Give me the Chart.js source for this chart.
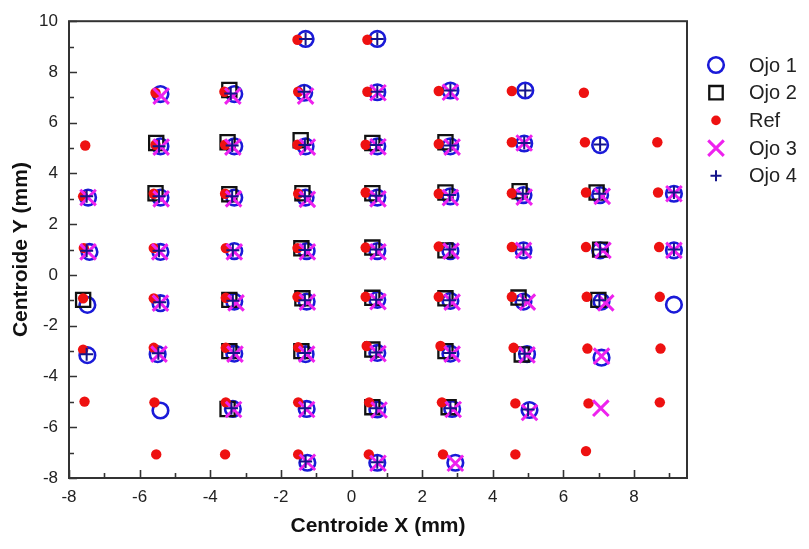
<!DOCTYPE html>
<html>
<head>
<meta charset="utf-8">
<script src="https://cdn.jsdelivr.net/npm/chart.js@4/dist/chart.umd.min.js"></script>
<style>
  html, body { margin: 0; padding: 0; background: #ffffff; }
  #wrap { width: 809px; height: 549px; }
</style>
</head>
<body>
<div id="wrap"><canvas id="c" width="809" height="549"></canvas></div>
<script>
// Centroid positions (mm) measured for each eye and the reference grid
const ojo1 = [
  [-1.30, 9.30], [0.73, 9.30],
  [-5.41, 7.13], [-3.32, 7.13], [-1.34, 7.18], [0.73, 7.20], [2.80, 7.27], [4.92, 7.27],
  [-5.41, 5.07], [-3.32, 5.07], [-1.30, 5.07], [0.73, 5.07], [2.80, 5.07], [4.89, 5.18], [7.04, 5.12],
  [-7.46, 3.05], [-5.41, 3.05], [-3.32, 3.05], [-1.30, 3.05], [0.73, 3.05], [2.80, 3.10], [4.87, 3.15], [7.04, 3.15], [9.13, 3.20],
  [-7.42, 0.91], [-5.41, 0.91], [-3.32, 0.94], [-1.27, 0.94], [0.73, 0.94], [2.80, 0.94], [4.87, 0.97], [7.04, 0.97], [9.13, 0.97],
  [-7.48, -1.18], [-5.41, -1.11], [-3.32, -1.05], [-1.27, -1.05], [0.73, -0.98], [2.80, -1.02], [4.87, -1.05], [7.08, -1.05], [9.13, -1.17],
  [-7.48, -3.16], [-5.49, -3.12], [-3.32, -3.10], [-1.30, -3.12], [0.73, -3.07], [2.80, -3.10], [4.97, -3.12], [7.08, -3.26],
  [-5.41, -5.34], [-3.36, -5.28], [-1.27, -5.28], [0.73, -5.30], [2.85, -5.28], [5.04, -5.32],
  [-1.25, -7.40], [0.73, -7.40], [2.94, -7.40]
];
const ojo2 = [
  [-3.46, 7.29],
  [-5.53, 5.20], [-3.51, 5.23], [-1.44, 5.31], [0.59, 5.20], [2.66, 5.23],
  [-5.55, 3.22], [-3.46, 3.18], [-1.39, 3.22], [0.59, 3.22], [2.66, 3.25], [4.76, 3.30], [6.94, 3.25],
  [-1.42, 1.05], [0.59, 1.08], [2.66, 0.97], [7.04, 1.00],
  [-7.60, -0.98], [-3.46, -0.98], [-1.39, -0.92], [0.59, -0.90], [2.66, -0.92], [4.73, -0.89], [6.99, -0.98],
  [-3.46, -3.00], [-1.42, -3.00], [0.59, -2.94], [2.66, -3.00], [4.82, -3.13],
  [-3.51, -5.28], [0.59, -5.21], [2.75, -5.21]
];
const ref = [
  [-1.53, 9.27], [0.45, 9.27],
  [-5.55, 7.18], [-3.60, 7.22], [-1.51, 7.22], [0.45, 7.22], [2.47, 7.25], [4.54, 7.25], [6.58, 7.18],
  [-7.54, 5.10], [-5.55, 5.13], [-3.58, 5.13], [-1.53, 5.13], [0.40, 5.13], [2.47, 5.16], [4.54, 5.23], [6.61, 5.23], [8.66, 5.23],
  [-7.60, 3.10], [-5.60, 3.20], [-3.58, 3.20], [-1.51, 3.20], [0.40, 3.25], [2.47, 3.20], [4.54, 3.22], [6.64, 3.25], [8.68, 3.25],
  [-7.58, 1.06], [-5.60, 1.06], [-3.56, 1.06], [-1.53, 1.06], [0.40, 1.08], [2.47, 1.12], [4.54, 1.10], [6.64, 1.10], [8.71, 1.10],
  [-7.60, -0.92], [-5.60, -0.92], [-3.56, -0.90], [-1.53, -0.86], [0.40, -0.86], [2.47, -0.86], [4.54, -0.86], [6.66, -0.86], [8.73, -0.86],
  [-7.60, -2.94], [-5.60, -2.87], [-3.56, -2.87], [-1.51, -2.85], [0.43, -2.80], [2.52, -2.80], [4.59, -2.87], [6.68, -2.90], [8.75, -2.90],
  [-7.56, -4.99], [-5.58, -5.02], [-3.56, -5.02], [-1.51, -5.02], [0.50, -5.02], [2.56, -5.02], [4.64, -5.06], [6.71, -5.06], [8.73, -5.02],
  [-5.53, -7.07], [-3.58, -7.07], [-1.51, -7.07], [0.49, -7.07], [2.59, -7.07], [4.64, -7.07], [6.64, -6.94]
];
const ojo3 = [
  [-5.39, 7.05], [-3.36, 7.05], [-1.30, 7.05], [0.75, 7.18], [2.80, 7.20],
  [-5.39, 5.04], [-3.36, 5.04], [-1.25, 5.04], [0.75, 5.05], [2.85, 5.04], [4.89, 5.20],
  [-7.46, 3.05], [-5.39, 3.00], [-3.34, 3.00], [-1.25, 2.98], [0.75, 3.00], [2.80, 3.05], [4.89, 3.07], [7.10, 3.10], [9.13, 3.20],
  [-7.46, 0.91], [-5.43, 0.91], [-3.32, 0.91], [-1.25, 0.91], [0.75, 0.91], [2.82, 0.94], [4.87, 0.97], [7.12, 0.97], [9.13, 0.97],
  [-5.41, -1.11], [-3.27, -1.10], [-1.25, -1.07], [0.75, -1.05], [2.85, -1.07], [4.98, -1.07], [7.20, -1.10],
  [-5.45, -3.12], [-3.30, -3.12], [-1.27, -3.12], [0.75, -3.10], [2.85, -3.12], [4.97, -3.15], [7.08, -3.20],
  [-3.34, -5.30], [-1.27, -5.30], [0.78, -5.32], [2.88, -5.30], [5.04, -5.42], [7.06, -5.25],
  [-1.25, -7.38], [0.75, -7.42], [2.94, -7.42]
];
const ojo4 = [
  [-1.30, 9.30], [0.73, 9.30],
  [-3.42, 7.15], [-1.34, 7.22], [0.73, 7.22], [2.80, 7.27], [4.92, 7.27],
  [-5.45, 5.07], [-3.38, 5.10], [-1.32, 5.12], [0.70, 5.12], [2.80, 5.10], [4.89, 5.20], [7.04, 5.14],
  [-7.50, 3.10], [-5.45, 3.10], [-3.38, 3.10], [-1.32, 3.10], [0.70, 3.12], [2.78, 3.15], [4.85, 3.20], [7.02, 3.20], [9.13, 3.25],
  [-7.50, 0.95], [-5.45, 0.95], [-3.36, 0.97], [-1.32, 0.98], [0.70, 1.00], [2.78, 1.00], [4.87, 1.00], [7.04, 1.00], [9.13, 1.00],
  [-5.43, -1.07], [-3.36, -1.02], [-1.32, -1.00], [0.70, -0.98], [2.78, -1.00], [4.85, -1.00], [7.02, -1.00],
  [-7.50, -3.12], [-5.47, -3.08], [-3.34, -3.07], [-1.32, -3.07], [0.70, -3.05], [2.78, -3.07], [4.90, -3.10],
  [-3.40, -5.25], [-1.32, -5.25], [0.70, -5.25], [2.80, -5.25], [5.00, -5.30],
  [-1.30, -7.35], [0.73, -7.38]
];

const seriesNames = ['Ojo 1', 'Ojo 2', 'Ref', 'Ojo 3', 'Ojo 4'];
const xMajorTicks = [-8, -6, -4, -2, 0, 2, 4, 6, 8];
const yMajorTicks = [-8, -6, -4, -2, 0, 2, 4, 6, 8, 10];

const FONT = "'Liberation Sans', Arial, Helvetica, sans-serif";
const toPts = arr => arr.map(p => ({ x: p[0], y: p[1] }));

const styles = [
  { pointStyle: 'circle',   radius: 7.8, borderWidth: 2.6, border: '#1a1ad8', fill: 'rgba(0,0,0,0)', order: 5, legendR: 7.8 },
  { pointStyle: 'rect',     radius: 10,  borderWidth: 2.3, border: '#111111', fill: 'rgba(0,0,0,0)', order: 4, legendR: 9.5 },
  { pointStyle: 'circle',   radius: 5.2, borderWidth: 0,   border: '#ee1111', fill: '#ee1111',       order: 3, legendR: 4.8 },
  { pointStyle: 'crossRot', radius: 11,  borderWidth: 3,   border: '#ee22ee', fill: '#ee22ee',       order: 2, legendR: 11 },
  { pointStyle: 'cross',    radius: 6.5, borderWidth: 2,   border: '#14148a', fill: '#14148a',       order: 1, legendR: 5.5 }
];
const seriesData = [ojo1, ojo2, ref, ojo3, ojo4];

const datasets = seriesData.map((d, i) => ({
  label: seriesNames[i],
  data: toPts(d),
  pointStyle: styles[i].pointStyle,
  pointRadius: styles[i].radius,
  pointHoverRadius: styles[i].radius,
  pointBorderWidth: styles[i].borderWidth,
  borderColor: styles[i].border,
  pointBorderColor: styles[i].border,
  backgroundColor: styles[i].fill,
  pointBackgroundColor: styles[i].fill,
  showLine: false,
  order: styles[i].order
}));

// Box frame with inward major/minor ticks on the left and bottom axes
const framePlugin = {
  id: 'frame',
  afterDraw(chart) {
    const { ctx, chartArea: a, scales: { x, y } } = chart;
    ctx.save();
    ctx.strokeStyle = '#333333';
    ctx.lineWidth = 1.6;
    ctx.beginPath();
    for (let v = -8; v <= 9; v++) {
      const px = Math.round(x.getPixelForValue(v)) + 0.5;
      const len = (v % 2 === 0) ? 8 : 5;
      ctx.moveTo(px, a.bottom);
      ctx.lineTo(px, a.bottom - len);
    }
    for (let v = -8; v <= 10; v++) {
      const py = Math.round(y.getPixelForValue(v)) + 0.5;
      const len = (v % 2 === 0) ? 8 : 5;
      ctx.moveTo(a.left, py);
      ctx.lineTo(a.left + len, py);
    }
    ctx.stroke();
    ctx.lineWidth = 2;
    ctx.strokeRect(a.left, a.top, a.right - a.left, a.bottom - a.top);
    ctx.restore();
  }
};

// Legend to the right of the plot box
const legendPlugin = {
  id: 'sideLegend',
  afterDraw(chart) {
    const { ctx } = chart;
    const helpers = Chart.helpers;
    ctx.save();
    chart.data.datasets.forEach((ds, i) => {
      const yy = 65 + i * 27.7;
      const xx = 716;
      ctx.strokeStyle = ds.pointBorderColor;
      ctx.fillStyle = ds.pointBackgroundColor;
      ctx.lineWidth = ds.pointBorderWidth;
      if (helpers && helpers.drawPoint) {
        helpers.drawPoint(ctx, {
          pointStyle: ds.pointStyle,
          radius: styles[i].legendR,
          rotation: 0,
          borderWidth: ds.pointBorderWidth
        }, xx, yy);
      }
      ctx.fillStyle = '#222222';
      ctx.font = '20px ' + FONT;
      ctx.textAlign = 'left';
      ctx.textBaseline = 'middle';
      ctx.fillText(ds.label, 749, yy + 1);
    });
    ctx.restore();
  }
};

new Chart(document.getElementById('c'), {
  type: 'scatter',
  data: { datasets },
  options: {
    responsive: false,
    animation: false,
    devicePixelRatio: 1,
    layout: { padding: { top: 20, right: 122, left: 0, bottom: 0 } },
    plugins: {
      legend: { display: false },
      tooltip: { enabled: false }
    },
    scales: {
      x: {
        type: 'linear',
        min: -8,
        max: 9.5,
        afterBuildTicks: s => { s.ticks = xMajorTicks.map(v => ({ value: v })); },
        afterFit: s => { s.height = 71; },
        ticks: {
          color: '#222222',
          font: { family: FONT, size: 17 },
          padding: 9,
          maxRotation: 0,
          callback: v => String(v)
        },
        grid: { display: false, drawTicks: false },
        border: { display: false },
        title: {
          display: true,
          text: 'Centroide X (mm)',
          color: '#111111',
          font: { family: FONT, size: 21, weight: 'bold' },
          padding: { top: 0, bottom: 10 }
        }
      },
      y: {
        type: 'linear',
        min: -8,
        max: 10,
        afterBuildTicks: s => { s.ticks = yMajorTicks.map(v => ({ value: v })); },
        afterFit: s => { s.width = 69; },
        ticks: {
          color: '#222222',
          font: { family: FONT, size: 17 },
          padding: 11,
          callback: v => String(v)
        },
        grid: { display: false, drawTicks: false },
        border: { display: false },
        title: {
          display: true,
          text: 'Centroide Y (mm)',
          color: '#111111',
          font: { family: FONT, size: 21, weight: 'bold' },
          padding: { top: 9, bottom: 0 }
        }
      }
    }
  },
  plugins: [framePlugin, legendPlugin]
});
</script>
</body>
</html>
